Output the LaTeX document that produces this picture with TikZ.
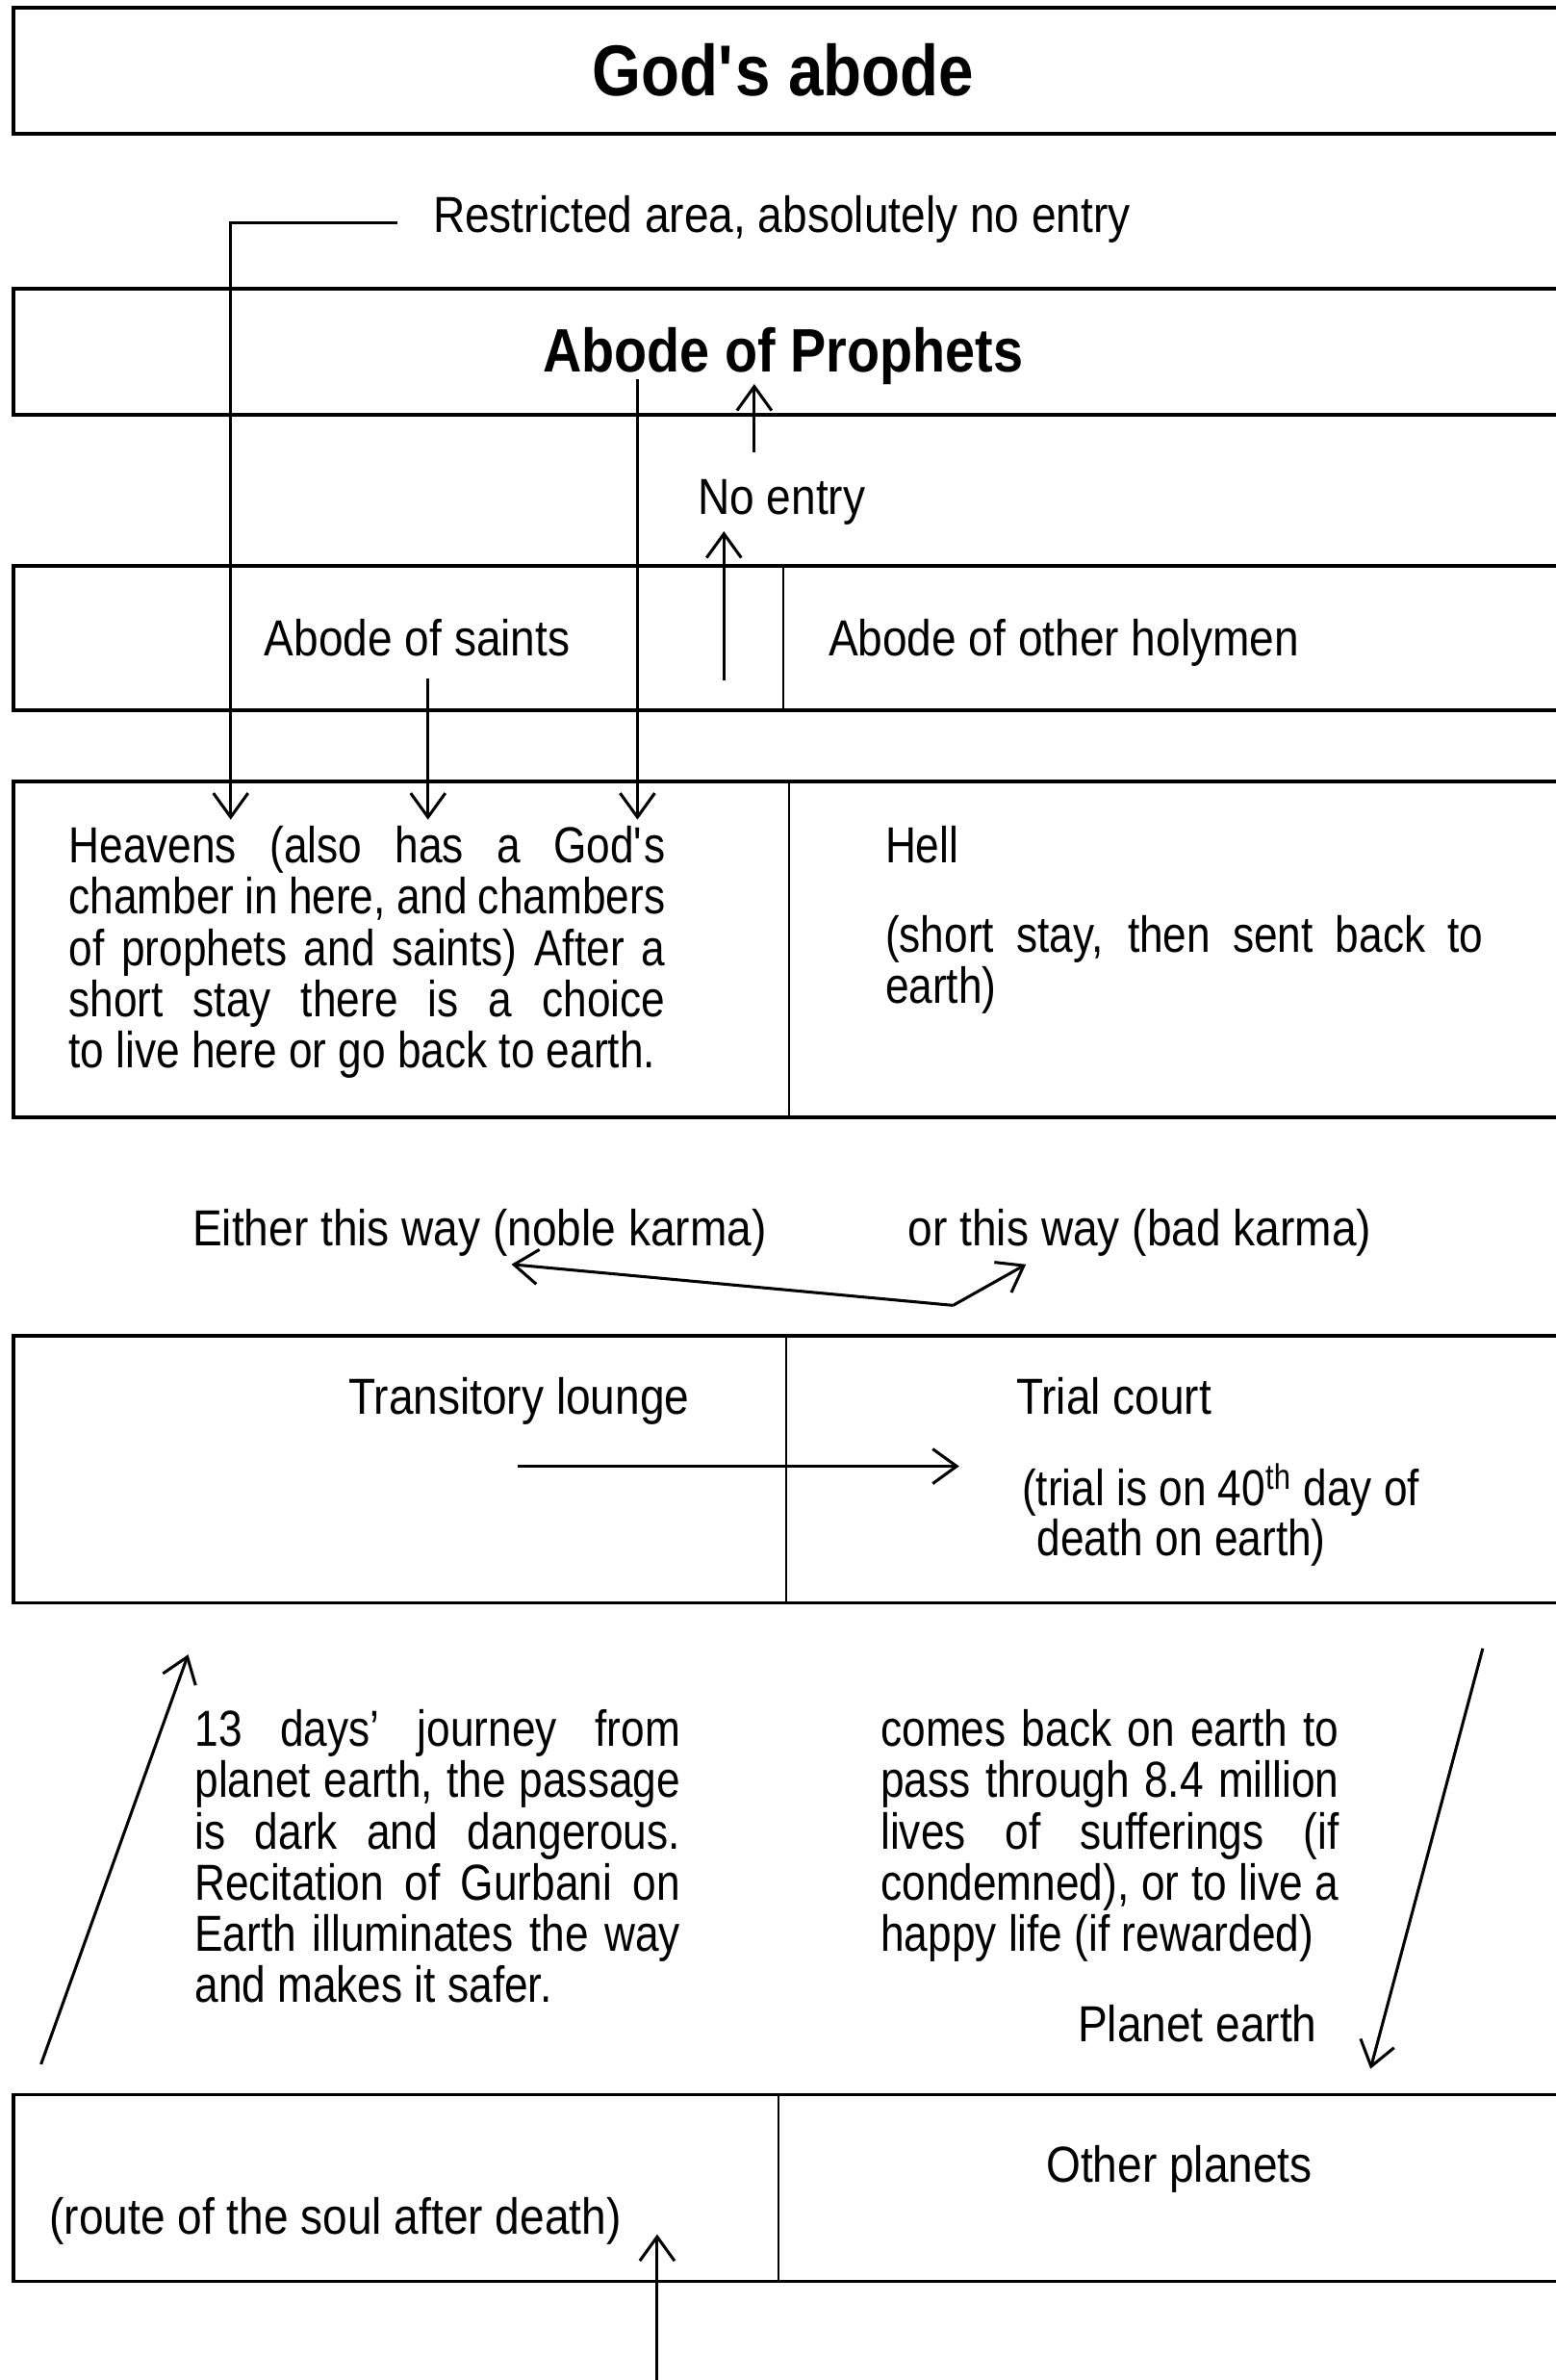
\documentclass[tikz,border=0pt]{standalone}
\usepackage{fontspec}
\setmainfont[FakeStretch=0.875]{Liberation Sans}
\newfontfamily\parafont[FakeStretch=0.84]{Liberation Sans}
\usetikzlibrary{arrows.meta}
\tikzset{box/.style={draw=black, line width=1.4pt}}
\tikzset{split/.style={draw=black, line width=0.9pt}}
\tikzset{conn/.style={draw=black, line width=1.1pt, -{Straight Barb[length=9pt,width=13pt]}}}
\tikzset{lbl/.style={inner sep=0pt, anchor=base}}
\tikzset{para/.style={inner sep=0pt, anchor=north west, align=justify, font=\parafont\bodysize}}
\newcommand{\bodysize}{\fontsize{19}{19.2}\selectfont}
\newcommand{\headsize}{\fontsize{27}{30}\selectfont\bfseries}
\newcommand{\subheadsize}{\fontsize{23}{26}\selectfont\bfseries}

\begin{document}
\begin{tikzpicture}[x=0.02cm, y=-0.02cm, font=\bodysize]
\useasboundingbox (0,0) rectangle (1025,1568);
\draw[box] (9,5) rectangle (1030,88);
\draw[box] (9,190) rectangle (1030,273);
\draw[box] (9,373) rectangle (1030,468);
\draw[split] (516,373) -- (516,468);
\draw[box] (9,515) rectangle (1030,736);
\draw[split] (520,515) -- (520,736);
\draw[box] (9,880) rectangle (1030,1056);
\draw[split] (518,880) -- (518,1056);
\draw[box] (9,1380) rectangle (1030,1503);
\draw[split] (513,1380) -- (513,1503);

\node[lbl, font=\headsize] (gods) at (516,63) {God\textquotesingle s abode};
\node[lbl, anchor=base west] (restricted) at (285,153) {Restricted area, absolutely no entry};
\node[lbl, font=\subheadsize] (prophets) at (516,245) {Abode of Prophets};
\node[lbl] (noentry) at (515,339) {No entry};
\node[lbl] (saints) at (275,432) {Abode of saints};
\node[lbl] (holymen) at (701,432) {Abode of other holymen};
\node[para, text width=7.86cm] (heavens) at (45,544) {Heavens (also has a God\textquotesingle s\linebreak chamber in here, and chambers\linebreak of prophets and saints) After a\linebreak short stay there is a choice\linebreak to live here or go back to earth.};
\node[para, text width=7.88cm] (hell) at (583,544) {Hell\\[0.5cm](short stay, then sent back to\linebreak earth)};
\node[lbl] (noble) at (316,821) {Either this way (noble karma)};
\node[lbl] (bad) at (751,821) {or this way (bad karma)};
\node[lbl] (lounge) at (342,932) {Transitory lounge};
\node[lbl] (court) at (734,932) {Trial court};
\node[lbl, anchor=base west, font=\parafont\bodysize] (trial1) at (673,992) {(trial is on 40\textsuperscript{th} day of};
\node[lbl, anchor=base west, font=\parafont\bodysize] (trial2) at (683,1025) {death on earth)};
\node[para, text width=6.4cm] (journey) at (128,1126) {13 days’ journey from\linebreak planet earth, the passage\linebreak is dark and dangerous.\linebreak Recitation of Gurbani on\linebreak Earth illuminates the way\linebreak and makes it safer.};
\node[para, text width=6.04cm] (comesback) at (580,1126) {comes back on earth to\linebreak pass through 8.4 million\linebreak lives of sufferings (if\linebreak condemned), or to live a\linebreak happy life (if rewarded)};
\node[lbl] (earth) at (789,1345) {Planet earth};
\node[lbl] (planets) at (777,1438) {Other planets};
\node[lbl] (route) at (221,1472) {(route of the soul after death)};

\coordinate (rhook) at (262,147);
\coordinate (hv1) at (152,540);
\coordinate (hv2) at (282,540);
\coordinate (hv3) at (420,540);
\coordinate (pr1) at (420,250);
\coordinate (sa1) at (282,447);
\coordinate (ne1) at (497,298);
\coordinate (ne2) at (497,253);
\coordinate (ne3) at (477,448);
\coordinate (ne4) at (477,350);
\coordinate (fork) at (628,860);
\coordinate (good) at (337,833);
\coordinate (evil) at (676,833);
\coordinate (tl1) at (341,966);
\coordinate (tl2) at (632,966);
\coordinate (up1) at (27,1360);
\coordinate (up2) at (124,1090);
\coordinate (dn1) at (977,1086);
\coordinate (dn2) at (903,1363);
\coordinate (st1) at (433,1575);
\coordinate (st2) at (433,1472);

\draw[conn] (rhook) -| (hv1);
\draw[conn] (sa1) -- (hv2);
\draw[conn] (pr1) -- (hv3);
\draw[conn] (ne1) -- (ne2);
\draw[conn] (ne3) -- (ne4);
\draw[conn] (fork) -- (good);
\draw[conn] (fork) -- (evil);
\draw[conn] (tl1) -- (tl2);
\draw[conn] (up1) -- (up2);
\draw[conn] (dn1) -- (dn2);
\draw[conn] (st1) -- (st2);
\end{tikzpicture}
\end{document}
